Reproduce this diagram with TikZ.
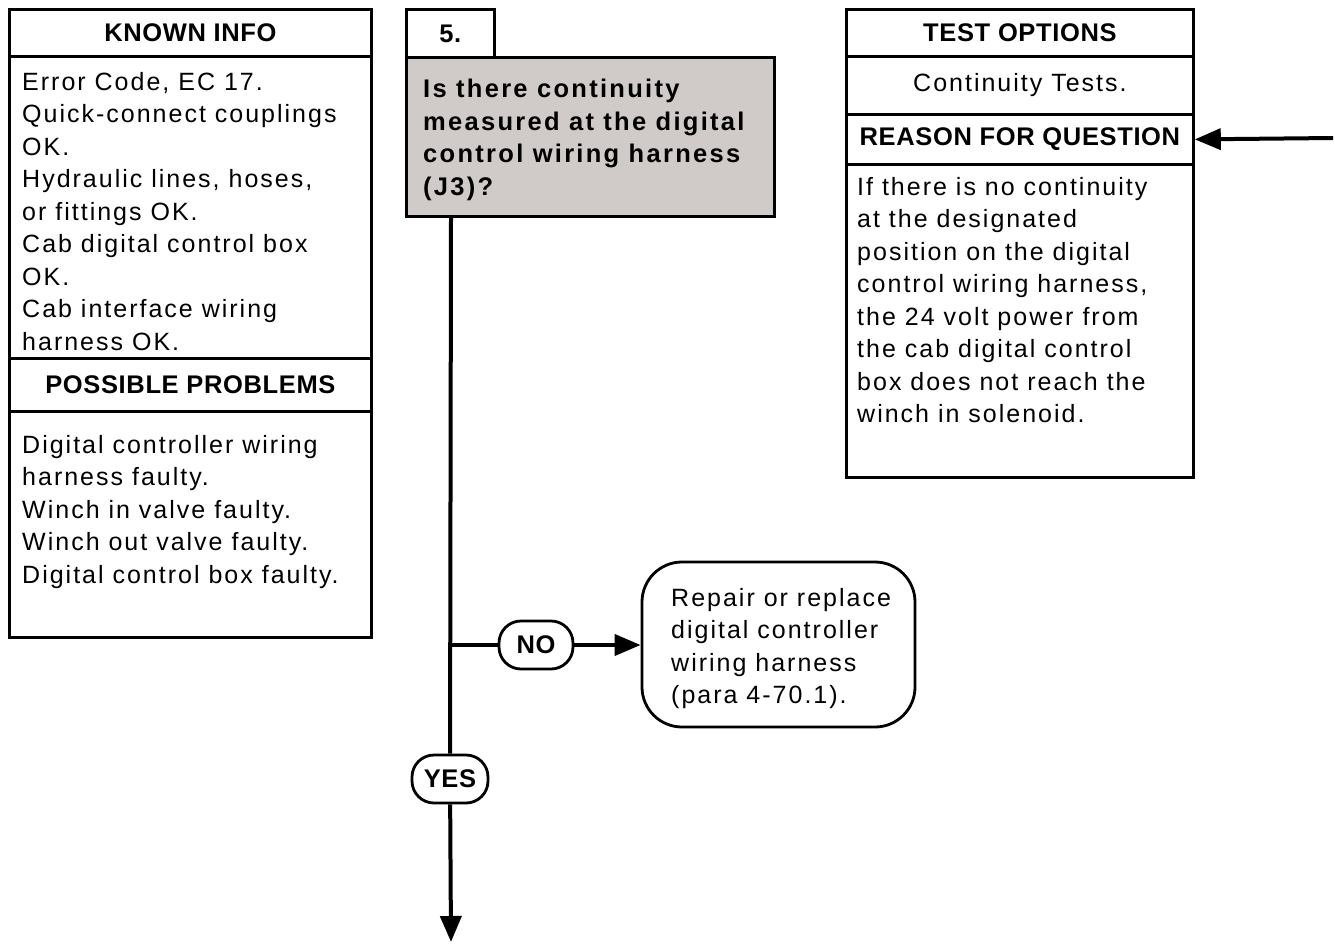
\documentclass[tikz,border=0pt]{standalone}
\usepackage{fontspec}
\setmainfont{Liberation Sans}
\newfontfamily\bodyfont[LetterSpace=8]{Liberation Sans}
\newfontfamily\headfont[LetterSpace=2.5]{Liberation Sans}
\newfontfamily\askfont[LetterSpace=9]{Liberation Sans}
\usetikzlibrary{arrows.meta}
\definecolor{qgray}{RGB}{208,202,200}

\begin{document}
\begin{tikzpicture}[x=1pt, y=-1pt,
  cell/.style={draw, line width=2.8pt, anchor=north west, inner sep=0pt, font=\headfont\bfseries\fontsize{25.5}{30}\selectfont},
  txt/.style={anchor=north west, inner sep=0pt, align=left, font=\bodyfont\fontsize{25}{32.5}\selectfont},
  tag/.style={draw, line width=2.8pt, rounded corners=22pt, fill=white, minimum height=48pt, inner sep=0pt, font=\headfont\bfseries\fontsize{25.5}{28}\selectfont},
  flow/.style={line width=4pt},
  arrow/.style={flow, -{Triangle[length=26pt,width=21pt]}}
]
\useasboundingbox (0,0) rectangle (1335,945);
% left column
\node[cell, minimum width=362pt, minimum height=47pt] (knownhd) at (8,8) {KNOWN INFO};
\node[cell, minimum width=362pt, minimum height=302pt] (known) at (8,55) {};
\node[txt] (knowntxt) at (22,72) {Error Code, EC 17.\\Quick-connect couplings\\OK.\\Hydraulic lines, hoses,\\or fittings OK.\\Cab digital control box\\OK.\\Cab interface wiring\\harness OK.};
\node[cell, minimum width=362pt, minimum height=53pt] (posshd) at (8,357) {POSSIBLE PROBLEMS};
\node[cell, minimum width=362pt, minimum height=226pt] (poss) at (8,410) {};
\node[txt] (posstxt) at (22,435) {Digital controller wiring\\harness faulty.\\Winch in valve faulty.\\Winch out valve faulty.\\Digital control box faulty.};
% question
\node[cell, minimum width=88pt, minimum height=48pt] (num) at (405,8) {5.};
\node[cell, fill=qgray, minimum width=368pt, minimum height=159pt] (quest) at (405,56) {};
\node[txt, font=\askfont\bfseries\fontsize{25.5}{32.5}\selectfont] (questtxt) at (423,79) {Is there continuity\\measured at the digital\\control wiring harness\\(J3)?};
% right column
\node[cell, minimum width=347pt, minimum height=47pt] (testhd) at (845,8) {TEST OPTIONS};
\node[cell, minimum width=347pt, minimum height=58pt, font=\bodyfont\fontsize{25}{30}\selectfont] (test) at (845,55) {Continuity Tests.};
\node[cell, minimum width=347pt, minimum height=50pt] (reasonhd) at (845,113) {REASON FOR QUESTION};
\node[cell, minimum width=347pt, minimum height=313pt] (reason) at (845,163) {};
\node[txt] (reasontxt) at (857,177) {If there is no continuity\\at the designated\\position on the digital\\control wiring harness,\\the 24 volt power from\\the cab digital control\\box does not reach the\\winch in solenoid.};
% answers
\node[draw, line width=2.8pt, rounded corners=40pt, minimum width=273pt, minimum height=165pt, inner sep=0pt] (repair) at (778.5,644.5) {};
\node[txt] (repairtxt) at (671,588) {Repair or replace\\digital controller\\wiring harness\\(para 4-70.1).};
\coordinate (split) at (451,645);
\node[tag, minimum width=74pt] (no) at (536,645) {NO};
\node[tag, minimum width=76pt] (yes) at (450,779) {YES};
\coordinate (down) at (451,942);
\coordinate (feed) at (1333,138);
\draw[flow] (quest.south -| split) -- (yes);
\draw[arrow] (yes) -- (down);
\draw[flow] (split) -- (no);
\draw[arrow] (no) -- (no -| repair.west);
\draw[arrow] (feed) -- (reasonhd.east);
\end{tikzpicture}
\end{document}
